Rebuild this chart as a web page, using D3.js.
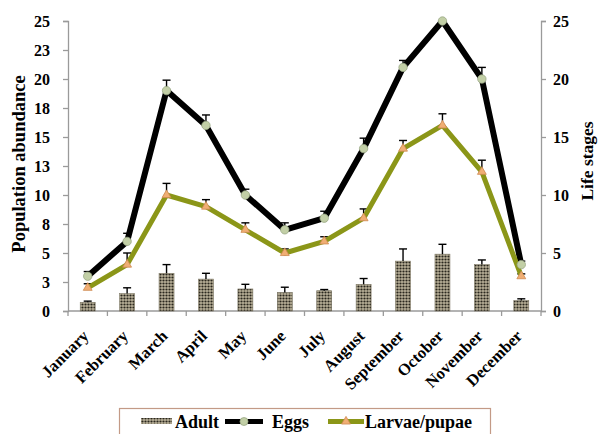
<!DOCTYPE html>
<html>
<head>
<meta charset="utf-8">
<script src="https://cdn.jsdelivr.net/npm/d3@7/dist/d3.min.js"></script>
<style>
  html, body { margin: 0; padding: 0; background: #fff; }
  svg { display: block; }
</style>
</head>
<body>
<script>
// Monthly population data
const months = ["January","February","March","April","May","June","July","August","September","October","November","December"];
const adult      = [0.75, 1.5, 3.25, 2.75, 1.9, 1.6, 1.75, 2.3, 4.3, 4.9, 4.0, 0.9];
const adultErr   = [0.1, 0.5, 0.75, 0.5, 0.4, 0.45, 0.1, 0.5, 1.05, 0.85, 0.4, 0.15];
const eggs       = [3, 6, 19, 16, 10, 7, 8, 14, 21, 25, 20, 4];
const eggsErr    = [0.4, 0.7, 0.9, 0.9, 0.5, 0.6, 0.6, 0.9, 0.6, 0, 1.0, 0.3];
const larvae     = [2, 4, 10, 9, 7, 5, 6, 8, 14, 16, 12, 3];
const larvaeErr  = [0.35, 1.0, 1.0, 0.6, 0.6, 0.35, 0.4, 0.8, 0.7, 1.0, 1.0, 0.2];
const leftTicks  = [0, 2.5, 5, 7.5, 10, 12.5, 15, 17.5, 20, 22.5, 25];
const leftLabels = ["0","3","5","8","10","13","15","18","20","23","25"];
const rightTicks = [0, 5, 10, 15, 20, 25];

const W = 598, H = 434;
const plot = { left: 68, right: 541, top: 21, bottom: 311 };
const FONT = "Liberation Serif";

const svg = d3.select("body").append("svg").attr("width", W).attr("height", H);

// Dotted fill used by the adult bars
const defs = svg.append("defs");
const pat = defs.append("pattern").attr("id", "dots")
  .attr("width", 3).attr("height", 3).attr("patternUnits", "userSpaceOnUse");
pat.append("rect").attr("width", 3).attr("height", 3).attr("fill", "#b8b098");
pat.append("circle").attr("cx", 1.5).attr("cy", 1.5).attr("r", 1.1).attr("fill", "#2a271e");

const x = d3.scaleBand().domain(months).range([plot.left, plot.right]).paddingInner(0).paddingOuter(0);
const yL = d3.scaleLinear().domain([0, 25]).range([plot.bottom, plot.top]);
const yR = d3.scaleLinear().domain([0, 25]).range([plot.bottom, plot.top]);
const cx = m => x(m) + x.bandwidth() / 2;

const axisColor = "#9a9a9a";

// Bold serif label helper
function label(sel, size) {
  return sel.attr("font-family", FONT).attr("font-weight", "bold").attr("font-size", size).attr("fill", "#000");
}

// Left axis
const gL = svg.append("g").attr("transform", `translate(${plot.left},0)`)
  .call(d3.axisLeft(yL).tickValues(leftTicks).tickFormat((d, i) => leftLabels[i]).tickSize(5).tickPadding(13));
// Right axis
const gR = svg.append("g").attr("transform", `translate(${plot.right},0)`)
  .call(d3.axisRight(yR).tickValues(rightTicks).tickSize(5).tickPadding(7));
[gL, gR].forEach(g => {
  g.attr("font-family", FONT).attr("font-size", 16);
  g.select(".domain").attr("stroke", axisColor).attr("stroke-width", 1.3);
  g.selectAll(".tick line").attr("stroke", axisColor).attr("stroke-width", 1.3);
  label(g.selectAll(".tick text"), 16);
});

// Bottom axis with ticks at category boundaries
const gX = svg.append("g").attr("transform", `translate(0,${plot.bottom})`);
gX.append("line").attr("x1", plot.left).attr("x2", plot.right).attr("stroke", axisColor).attr("stroke-width", 1.3);
const bounds = months.map(m => x(m)).concat([plot.right]);
gX.selectAll("line.tk").data(bounds).join("line").attr("class", "tk")
  .attr("x1", d => d).attr("x2", d => d).attr("y1", 0).attr("y2", 5)
  .attr("stroke", axisColor).attr("stroke-width", 1.3);
label(gX.selectAll("text").data(months).join("text"), 16.5)
  .attr("transform", d => `translate(${cx(d) + 2},${26}) rotate(-45)`)
  .attr("text-anchor", "end")
  .text(d => d);

// Adult bars
const barW = x.bandwidth() * 0.38;
svg.append("g").selectAll("rect").data(months).join("rect")
  .attr("x", (d) => cx(d) - barW / 2)
  .attr("y", (d, i) => yL(adult[i]))
  .attr("width", barW)
  .attr("height", (d, i) => yL(0) - yL(adult[i]))
  .attr("fill", "url(#dots)")
  .attr("stroke", "#7d7764").attr("stroke-width", 0.6);

// Upward error bars
function errBars(vals, errs, scale) {
  const g = svg.append("g").attr("stroke", "#000").attr("stroke-width", 1.4);
  months.forEach((m, i) => {
    if (errs[i] <= 0) return;
    const x0 = cx(m), yv = scale(vals[i]), ye = scale(vals[i] + errs[i]);
    g.append("line").attr("x1", x0).attr("x2", x0).attr("y1", yv).attr("y2", ye);
    g.append("line").attr("x1", x0 - 4).attr("x2", x0 + 4).attr("y1", ye).attr("y2", ye);
  });
}
errBars(adult, adultErr, yL);
errBars(eggs, eggsErr, yR);
errBars(larvae, larvaeErr, yR);

// Eggs line
const line = d3.line().x((d, i) => cx(months[i])).y(d => yR(d));
svg.append("path").datum(eggs).attr("d", line)
  .attr("fill", "none").attr("stroke", "#000").attr("stroke-width", 6).attr("stroke-linejoin", "round");
// Larvae/pupae line
svg.append("path").datum(larvae).attr("d", line)
  .attr("fill", "none").attr("stroke", "#8b9618").attr("stroke-width", 5).attr("stroke-linejoin", "round");

// Markers
svg.append("g").selectAll("circle").data(eggs).join("circle")
  .attr("cx", (d, i) => cx(months[i])).attr("cy", d => yR(d)).attr("r", 4.2)
  .attr("fill", "#c2cfa6").attr("stroke", "#9aa886").attr("stroke-width", 0.8);
const tri = d3.symbol().type(d3.symbolTriangle).size(34);
svg.append("g").selectAll("path").data(larvae).join("path")
  .attr("d", tri)
  .attr("transform", (d, i) => `translate(${cx(months[i])},${yR(d)})`)
  .attr("fill", "#f0ae74").attr("stroke", "#cf8a52").attr("stroke-width", 0.8);

// Axis titles
label(svg.append("text"), 18.5).attr("transform", `translate(25,164) rotate(-90)`)
  .attr("text-anchor", "middle").text("Population abundance");
label(svg.append("text"), 17.5).attr("transform", `translate(593,161) rotate(-90)`)
  .attr("text-anchor", "middle").text("Life stages");

// Legend
const lg = svg.append("g");
lg.append("rect").attr("x", 119.5).attr("y", 408.5).attr("width", 371).attr("height", 40)
  .attr("fill", "#fff").attr("stroke", "#c39a86").attr("stroke-width", 1.2);
lg.append("rect").attr("x", 141).attr("y", 418).attr("width", 31).attr("height", 6).attr("fill", "url(#dots)");
label(lg.append("text"), 18).attr("x", 175).attr("y", 428).text("Adult");
lg.append("line").attr("x1", 225).attr("x2", 263).attr("y1", 421.5).attr("y2", 421.5).attr("stroke", "#000").attr("stroke-width", 5);
lg.append("circle").attr("cx", 244).attr("cy", 421.5).attr("r", 4).attr("fill", "#c2cfa6").attr("stroke", "#9aa886").attr("stroke-width", 0.8);
label(lg.append("text"), 18).attr("x", 272).attr("y", 428).text("Eggs");
lg.append("line").attr("x1", 328).attr("x2", 364).attr("y1", 421.5).attr("y2", 421.5).attr("stroke", "#8b9618").attr("stroke-width", 5);
lg.append("path").attr("d", tri).attr("transform", "translate(346,421.5)").attr("fill", "#f0ae74").attr("stroke", "#cf8a52").attr("stroke-width", 0.8);
label(lg.append("text"), 18).attr("x", 365).attr("y", 428).text("Larvae/pupae");
</script>
</body>
</html>
